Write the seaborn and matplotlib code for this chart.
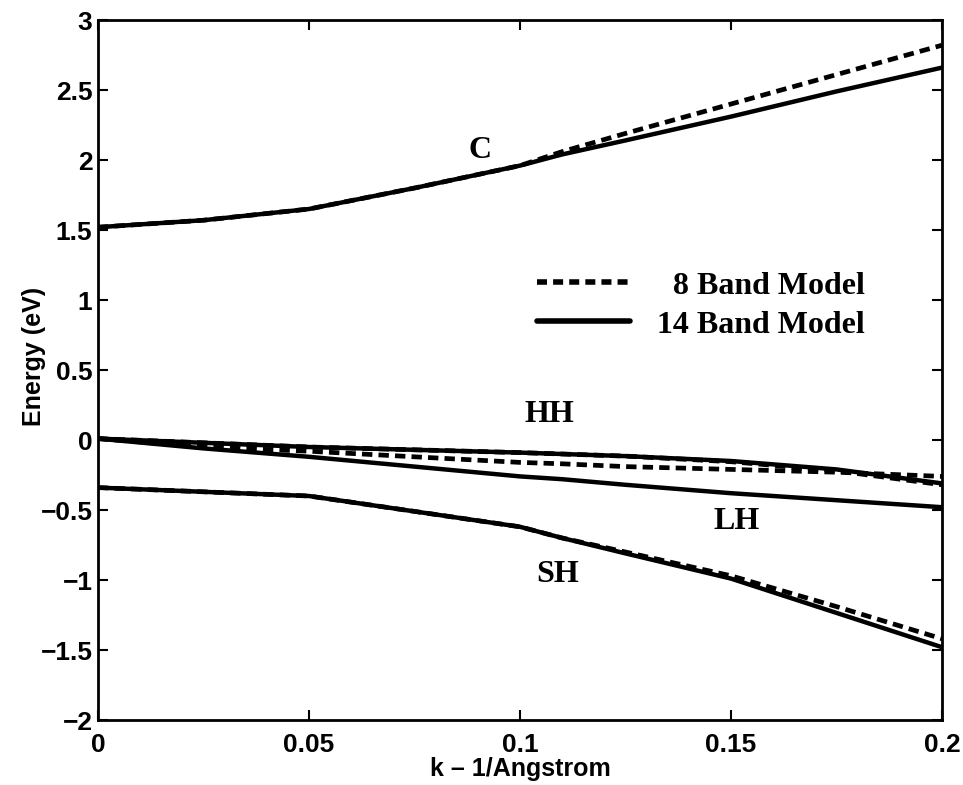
import pandas as pd
import matplotlib.pyplot as plt
import seaborn as sns
from matplotlib.lines import Line2D
from matplotlib.font_manager import FontProperties

# wave vector grid (1/Angstrom)
k = [0, 0.025, 0.05, 0.075, 0.1, 0.11, 0.125, 0.15, 0.175, 0.2]

# 14 band model
c_14 = [1.52, 1.57, 1.65, 1.80, 1.96, 2.04, 2.14, 2.31, 2.49, 2.66]
hh_14 = [0.01, -0.02, -0.05, -0.07, -0.09, -0.10, -0.115, -0.15, -0.21, -0.31]
lh_14 = [0.01, -0.06, -0.12, -0.19, -0.26, -0.28, -0.32, -0.38, -0.43, -0.48]
sh_14 = [-0.34, -0.37, -0.40, -0.51, -0.62, -0.70, -0.81, -0.99, -1.235, -1.48]

# 8 band model
c_8 = [1.52, 1.57, 1.65, 1.80, 1.96, 2.06, 2.19, 2.40, 2.61, 2.82]
hh_8 = [0.01, -0.02, -0.05, -0.07, -0.09, -0.10, -0.115, -0.155, -0.22, -0.32]
lh_8 = [0.01, -0.05, -0.08, -0.12, -0.16, -0.17, -0.19, -0.21, -0.23, -0.26]
sh_8 = [-0.34, -0.37, -0.40, -0.51, -0.62, -0.70, -0.80, -0.97, -1.19, -1.42]

band_labels = ['C', 'HH', 'LH', 'SH']
label_k = [0.0905, 0.1069, 0.1514, 0.1088]
label_e = [2.07, 0.18, -0.58, -0.96]

xticks = [0, 0.05, 0.1, 0.15, 0.2]
xtick_labels = ['0', '0.05', '0.1', '0.15', '0.2']
yticks = [-2, -1.5, -1, -0.5, 0, 0.5, 1, 1.5, 2, 2.5, 3]
ytick_labels = ['\u22122', '\u22121.5', '\u22121', '\u22120.5', '0', '0.5', '1', '1.5', '2', '2.5', '3']


def long_form(curves, model):
    rows = []
    for name, vals in curves.items():
        for kk, e in zip(k, vals):
            rows.append({'k': kk, 'E': e, 'curve': name, 'model': model})
    return pd.DataFrame(rows)


df14 = long_form({'C': c_14, 'HH': hh_14, 'LH': lh_14, 'SH': sh_14}, '14 Band Model')
df8 = long_form({'C': c_8, 'HH': hh_8, 'LH': lh_8, 'SH': sh_8}, '8 Band Model')

sns.set_style('ticks', {'axes.edgecolor': 'black', 'text.color': 'black',
                        'axes.labelcolor': 'black', 'xtick.color': 'black',
                        'ytick.color': 'black'})
plt.rcParams['font.family'] = ['Liberation Sans', 'DejaVu Sans']

fig = plt.figure(figsize=(9.63, 7.85), dpi=100)
ax = fig.add_axes([0.1018, 0.0828, 0.8764, 0.8917])

# dashed first so the solid curves cover it where both models agree
dash = (0, (2.2, 1.3))
sns.lineplot(data=df8, x='k', y='E', units='curve', estimator=None, sort=False,
             color='black', linewidth=3.4, linestyle=dash, legend=False, ax=ax)
sns.lineplot(data=df14, x='k', y='E', units='curve', estimator=None, sort=False,
             color='black', linewidth=3.2, legend=False, ax=ax)

serif_bold = FontProperties(family='Liberation Serif', weight='bold', size=23)
for lab, kx, ey in zip(band_labels, label_k, label_e):
    ax.text(kx, ey, lab, fontproperties=serif_bold, ha='center', va='center')

handles = [Line2D([], [], color='black', lw=4, linestyle=(0, (1.8, 1.1))),
           Line2D([], [], color='black', lw=4)]
ax.legend(handles, ['  8 Band Model', '14 Band Model'], loc='upper left',
          bbox_to_anchor=(0.52, 0.641), frameon=False, borderpad=0, borderaxespad=0,
          handlelength=2.9, handletextpad=0.85, labelspacing=0.3, prop=serif_bold)

ax.set_xlim(0, 0.2)
ax.set_ylim(-2, 3)
ax.set_xticks(xticks)
ax.set_xticklabels(xtick_labels)
ax.set_yticks(yticks)
ax.set_yticklabels(ytick_labels)
ax.tick_params(direction='in', length=7, width=1.5, top=True, right=True,
               labelsize=19, colors='black')
ax.tick_params(axis='x', pad=9)
ax.tick_params(axis='y', pad=4)
for lbl in ax.get_xticklabels() + ax.get_yticklabels():
    lbl.set_fontweight('bold')
for sp in ax.spines.values():
    sp.set_linewidth(2)
    sp.set_color('black')
    sp.set_visible(True)

ax.set_xlabel('k \u2013 1/Angstrom', fontsize=18, fontweight='bold', labelpad=0)
ax.set_ylabel('Energy (eV)', fontsize=18, fontweight='bold')
ax.yaxis.set_label_coords(-0.062, 0.52)

fig.savefig('out.png', dpi=100)
